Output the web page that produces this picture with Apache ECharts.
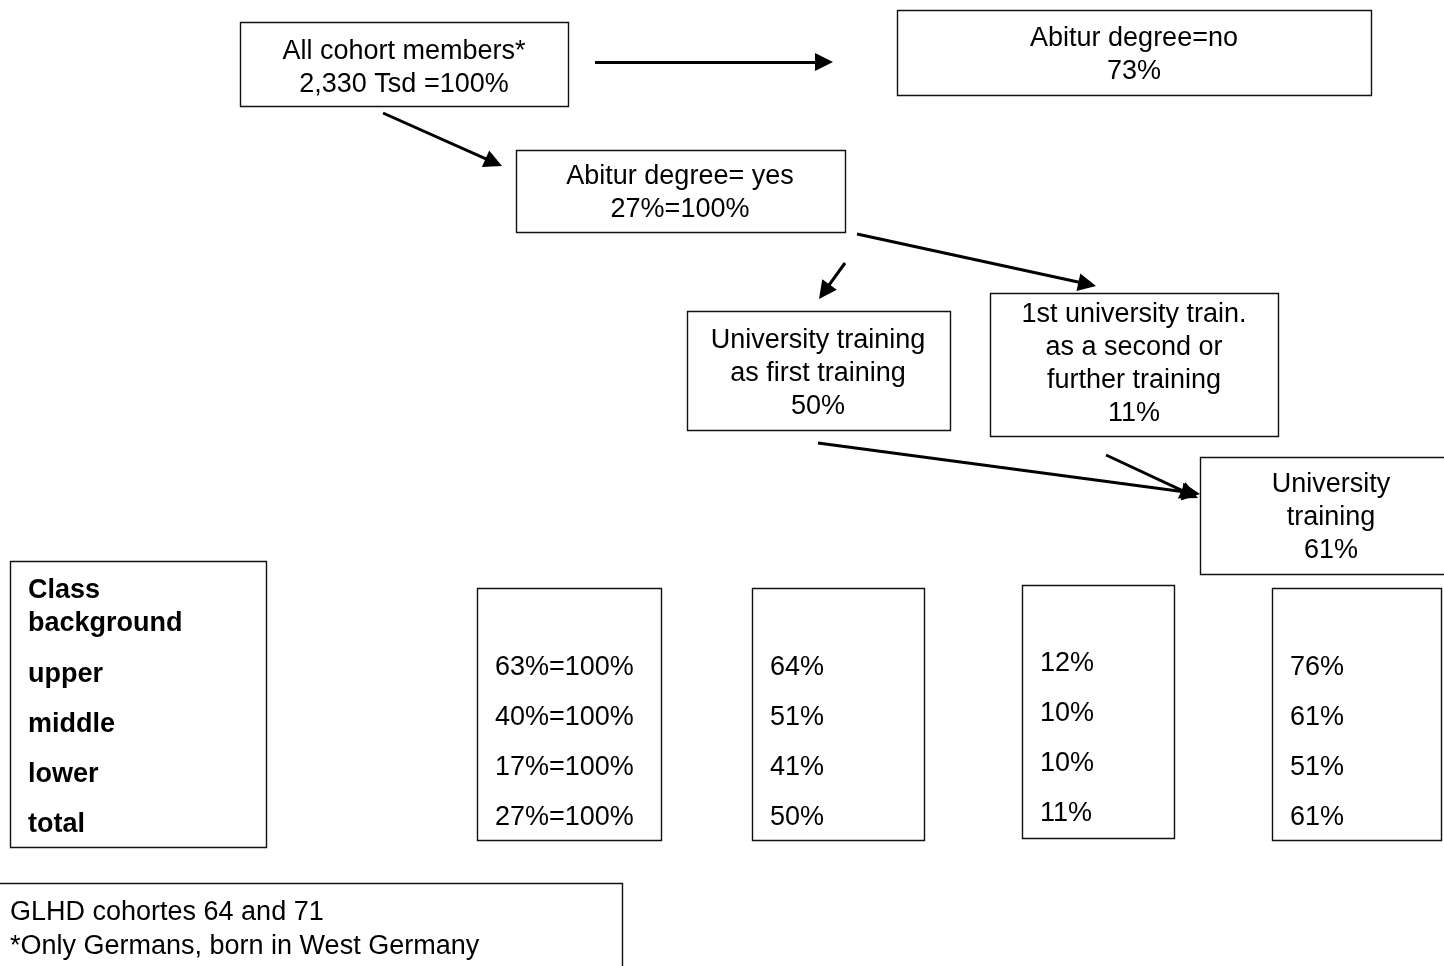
<!DOCTYPE html>
<html><head><meta charset="utf-8">
<script src="https://cdn.jsdelivr.net/npm/echarts@6/dist/echarts.min.js"></script>
<style>html,body{margin:0;padding:0;background:#fff}#c{width:1444px;height:966px}</style>
</head><body><div id="c"></div>
<script>
// ---------------- data ----------------
const cohortSize = '2,330 Tsd';
const cohortShare = 100;
const noAbiturShare = 73;
const abiturShare = 27;
const uniFirstShare = 50;
const uniSecondShare = 11;
const uniTotalShare = 61;

const classHeader = ['Class', 'background'];
const classCategories = ['upper', 'middle', 'lower', 'total'];
const abiturByClass = [63, 40, 17, 27];
const uniFirstByClass = [64, 51, 41, 50];
const uniSecondByClass = [12, 10, 10, 11];
const uniTotalByClass = [76, 61, 51, 61];

const footnoteLines = ['GLHD cohortes 64 and 71', '*Only Germans, born in West Germany'];

// ---------------- text built from data ----------------
const flowBoxTexts = [
  ['All cohort members*', cohortSize + ' =' + cohortShare + '%'],
  ['Abitur degree=no', noAbiturShare + '%'],
  ['Abitur degree= yes', abiturShare + '%=100%'],
  ['University training', 'as first training', uniFirstShare + '%'],
  ['1st university train.', 'as a second or', 'further training', uniSecondShare + '%'],
  ['University', 'training', uniTotalShare + '%']
];
const columnTexts = [
  abiturByClass.map(v => v + '%=100%'),
  uniFirstByClass.map(v => v + '%'),
  uniSecondByClass.map(v => v + '%'),
  uniTotalByClass.map(v => v + '%')
];

// ---------------- layout (pixel space of the diagram) ----------------
const boxLayout = [
  [240, 22, 568, 106],
  [897, 10, 1371, 95],
  [516, 150, 845, 232],
  [687, 311, 950, 430],
  [990, 293, 1278, 436],
  [1200, 457, 1446, 574],
  [10, 561, 266, 847],     // class box
  [477, 588, 661, 840],
  [752, 588, 924, 840],
  [1022, 585, 1174, 838],
  [1272, 588, 1441, 840],
  [-2, 883, 622, 975]      // footnote box
];
const flowTextLayout = [ // center x, first line y
  [404, 52], [1134, 39], [680, 177], [818, 341], [1134, 315], [1331, 485]
];
const lineGap = 33;
const columnTextLayout = [ // left x, first row y
  [495, 668], [770, 668], [1040, 664], [1290, 668]
];
const rowGap = 50;
const arrowLayout = [ // start x, start y, tip x, tip y
  [595, 62, 833, 62],
  [383, 113, 502, 166],
  [845, 263, 819, 299],
  [857, 234, 1096, 286],
  [818, 443, 1200, 494],
  [1106, 455, 1198, 498]
];
const headLen = 18;

// ---------------- assemble text items ----------------
const textItems = [];
flowBoxTexts.forEach((lines, i) => {
  lines.forEach((s, j) => textItems.push({ text: s, x: flowTextLayout[i][0], y: flowTextLayout[i][1] + j * lineGap, align: 'center', bold: false }));
});
textItems.push({ text: classHeader[0], x: 28, y: 591, align: 'left', bold: true });
textItems.push({ text: classHeader[1], x: 28, y: 624, align: 'left', bold: true });
classCategories.forEach((s, j) => textItems.push({ text: s, x: 28, y: 675 + j * rowGap, align: 'left', bold: true }));
columnTexts.forEach((col, i) => {
  col.forEach((s, j) => textItems.push({ text: s, x: columnTextLayout[i][0], y: columnTextLayout[i][1] + j * rowGap, align: 'left', bold: false }));
});
footnoteLines.forEach((s, j) => textItems.push({ text: s, x: 10, y: 913 + j * 34, align: 'left', bold: false }));

const FONT = '"Liberation Sans", Arial, sans-serif';

// the arrow-head symbol is centred on the line end, so stop the line half a head before the tip
const arrowData = arrowLayout.map(a => {
  const dx = a[2] - a[0], dy = a[3] - a[1];
  const L = Math.sqrt(dx * dx + dy * dy);
  const k = (L - headLen / 2) / L;
  return { coords: [[a[0], a[1]], [a[0] + dx * k, a[1] + dy * k]] };
});

const chart = echarts.init(document.getElementById('c'), null, { renderer: 'canvas' });
chart.setOption({
  animation: false,
  backgroundColor: '#fff',
  grid: { left: 0, right: 0, top: 0, bottom: 0 },
  xAxis: { type: 'value', min: 0, max: 1444, show: false },
  yAxis: { type: 'value', min: 0, max: 966, inverse: true, show: false },
  series: [
    {
      type: 'custom',
      name: 'boxes',
      silent: true,
      clip: false,
      data: boxLayout,
      renderItem: function (params, api) {
        const p1 = api.coord([api.value(0), api.value(1)]);
        const p2 = api.coord([api.value(2), api.value(3)]);
        return {
          type: 'rect',
          shape: { x: Math.round(p1[0]) + 0.5, y: Math.round(p1[1]) + 0.5, width: Math.round(p2[0] - p1[0]), height: Math.round(p2[1] - p1[1]) },
          style: { fill: null, stroke: '#111', lineWidth: 1.4 }
        };
      }
    },
    {
      type: 'lines',
      name: 'arrows',
      coordinateSystem: 'cartesian2d',
      silent: true,
      symbol: ['none', 'triangle'],
      symbolSize: [17, headLen],
      lineStyle: { color: '#000', width: 3, opacity: 1 },
      itemStyle: { color: '#000' },
      data: arrowData
    },
    {
      type: 'custom',
      name: 'texts',
      silent: true,
      clip: false,
      data: textItems.map(t => [t.x, t.y]),
      renderItem: function (params, api) {
        const t = textItems[params.dataIndex];
        const p = api.coord([api.value(0), api.value(1)]);
        return {
          type: 'text',
          style: {
            x: p[0], y: p[1], text: t.text, fill: '#000',
            fontFamily: FONT, fontSize: 27, fontWeight: t.bold ? 'bold' : 'normal',
            align: t.align, verticalAlign: 'middle'
          }
        };
      }
    }
  ]
});
</script>
</body></html>
